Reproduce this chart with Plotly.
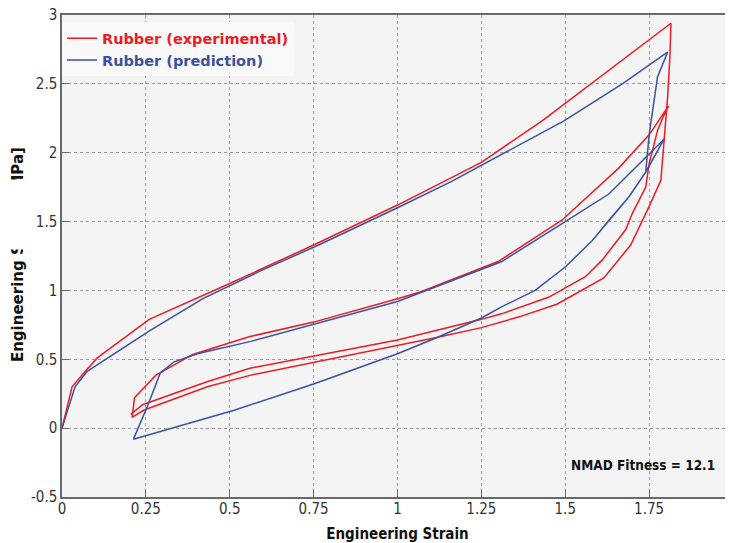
import plotly.graph_objects as go

# ---- data ----
# experimental: first loading, first unloading, reloading, second unloading
exp_load1_x = [0.0, 0.03, 0.065, 0.105, 0.26, 0.5, 0.75, 1.0, 1.25, 1.43, 1.815]
exp_load1_y = [0.0, 0.30, 0.40, 0.51, 0.79, 1.05, 1.33, 1.62, 1.93, 2.23, 2.94]
exp_unload1_x = [1.815, 1.812, 1.805, 1.795, 1.785, 1.75, 1.695, 1.615, 1.475, 1.365, 1.25, 1.12, 1.0, 0.743, 0.563, 0.433, 0.243, 0.209]
exp_unload1_y = [2.94, 2.70, 2.40, 2.08, 1.80, 1.61, 1.33, 1.09, 0.90, 0.81, 0.73, 0.66, 0.60, 0.477, 0.385, 0.30, 0.13, 0.078]
exp_reload_x = [0.209, 0.216, 0.28, 0.32, 0.39, 0.56, 0.75, 1.0, 1.07, 1.3, 1.49, 1.66, 1.75, 1.808]
exp_reload_y = [0.078, 0.22, 0.385, 0.44, 0.535, 0.665, 0.77, 0.94, 0.99, 1.21, 1.51, 1.89, 2.13, 2.34]
exp_unload2_x = [1.808, 1.79, 1.775, 1.75, 1.74, 1.70, 1.68, 1.61, 1.56, 1.45, 1.31, 1.25, 1.0, 0.74, 0.56, 0.43, 0.24, 0.205]
exp_unload2_y = [2.34, 2.25, 2.16, 1.92, 1.75, 1.56, 1.44, 1.22, 1.10, 0.95, 0.83, 0.79, 0.64, 0.52, 0.435, 0.335, 0.17, 0.10]

# prediction
pred_load1_x = [0.0, 0.039, 0.074, 0.124, 0.263, 0.42, 0.59, 0.765, 1.0, 1.16, 1.35, 1.495, 1.67, 1.805]
pred_load1_y = [0.0, 0.30, 0.41, 0.49, 0.71, 0.94, 1.14, 1.33, 1.60, 1.79, 2.04, 2.23, 2.50, 2.73]
pred_unload1_x = [1.805, 1.775, 1.765, 1.75, 1.74]
pred_unload1_y = [2.73, 2.55, 2.39, 2.13, 1.86]
pred_lower_x = [1.74, 1.69, 1.63, 1.58, 1.50, 1.41, 1.31, 1.25, 1.12, 1.0, 0.75, 0.513, 0.213]
pred_lower_y = [1.86, 1.68, 1.51, 1.36, 1.17, 1.00, 0.88, 0.80, 0.66, 0.54, 0.32, 0.13, -0.08]
pred_reload_x = [0.213, 0.254, 0.293, 0.333, 0.403, 0.563, 1.0, 1.251, 1.311, 1.50, 1.63, 1.795]
pred_reload_y = [-0.08, 0.155, 0.40, 0.48, 0.54, 0.63, 0.92, 1.15, 1.21, 1.50, 1.70, 2.10]
pred_unload2_x = [1.795, 1.74]
pred_unload2_y = [2.10, 1.86]

x_ticks = [0, 0.25, 0.5, 0.75, 1, 1.25, 1.5, 1.75, 2]
x_tick_text = ["0", "0.25", "0.5", "0.75", "1", "1.25", "1.5", "1.75", "2"]
y_ticks = [-0.5, 0, 0.5, 1, 1.5, 2, 2.5, 3]
y_tick_text = ["-0.5", "0", "0.5", "1", "1.5", "2", "2.5", "3"]

RED = "#ec1c24"
BLUE = "#3b51a3"
FONT = "DejaVu Sans Condensed, DejaVu Sans, sans-serif"
FONT_WIDE = "DejaVu Sans, sans-serif"

exp_x = exp_load1_x + exp_unload1_x + exp_reload_x + exp_unload2_x
exp_y = exp_load1_y + exp_unload1_y + exp_reload_y + exp_unload2_y
pred_x = pred_load1_x + pred_unload1_x + pred_lower_x + pred_reload_x + pred_unload2_x + pred_lower_x
pred_y = pred_load1_y + pred_unload1_y + pred_lower_y + pred_reload_y + pred_unload2_y + pred_lower_y

fig = go.Figure()
fig.add_trace(go.Scatter(x=exp_x, y=exp_y, mode="lines", line=dict(color=RED, width=1.5),
                         name="<b><span style='color:%s'>Rubber (experimental)</span></b>" % RED))
fig.add_trace(go.Scatter(x=pred_x, y=pred_y, mode="lines", line=dict(color=BLUE, width=1.5),
                         name="<b><span style='color:%s'>Rubber (prediction)</span></b>" % BLUE))

axis_common = dict(
    showgrid=True, gridcolor="#9a9a9a", griddash="dot", gridwidth=1,
    showline=True, linecolor="#6a6a6a", linewidth=1.5,
    zeroline=False, ticks="inside", ticklen=7, tickcolor="#6a6a6a", automargin=False,
    ticklabeloverflow="allow",
    tickfont=dict(family=FONT, size=15, color="#333333"),
)

# the page body adds an 8px offset; margins compensate so the plot area sits at x 62..733, y 15..497
fig.update_layout(
    width=733, height=543,
    margin=dict(l=54, r=8, t=7, b=54),
    paper_bgcolor="white", plot_bgcolor="#f4f4f4",
    showlegend=True,
    legend=dict(x=0.0, y=0.985, xanchor="left", yanchor="top",
                bgcolor="#f9f9fa", borderwidth=0,
                font=dict(family=FONT_WIDE, size=14.5), tracegroupgap=0),
    xaxis=dict(range=[0, 2], tickvals=x_ticks, ticktext=x_tick_text, mirror=True,
               ticklabelstandoff=-3,
               title=dict(text="<b>Engineering Strain</b>", font=dict(family=FONT, size=15, color="#111"), standoff=12),
               **axis_common),
    yaxis=dict(range=[-0.5, 3], tickvals=y_ticks, ticktext=y_tick_text, mirror="ticks",
               **axis_common),
    annotations=[
        dict(text="<b>Engineering Stress [MPa]</b>", textangle=-90, xref="paper", yref="paper",
             x=-0.0656, y=0.504, xanchor="center", yanchor="middle", showarrow=False,
             font=dict(family=FONT_WIDE, size=15, color="#111")),
        # white patch hiding the middle of the y title, as in the reference
        dict(text=" ", xref="paper", yref="paper", x=-0.0656, y=(497 - 214.5) / 482,
             xanchor="center", yanchor="middle", showarrow=False, width=22, height=69,
             bgcolor="white", borderpad=0, font=dict(size=10)),
        dict(text="<b>NMAD Fitness = 12.1</b>", xref="paper", yref="paper",
             x=0.976, y=0.066, xanchor="right", yanchor="middle", showarrow=False,
             font=dict(family=FONT, size=13.5, color="#111")),
    ],
)

fig.write_html("out.html")
